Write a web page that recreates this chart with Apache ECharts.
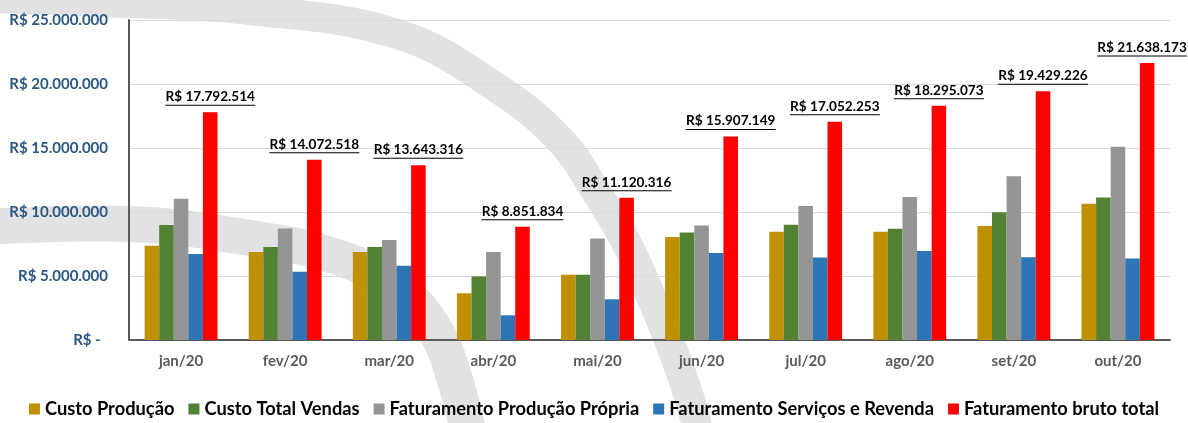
<!DOCTYPE html>
<html>
<head>
<meta charset="utf-8">
<script src="https://cdn.jsdelivr.net/npm/echarts@6/dist/echarts.min.js"></script>
<style>
  html, body { margin: 0; padding: 0; background: #fff; }
  #chart { width: 1188px; height: 423px; }
</style>
</head>
<body>
<div id="chart"></div>
<script>
const meses = ['jan/20', 'fev/20', 'mar/20', 'abr/20', 'mai/20', 'jun/20', 'jul/20', 'ago/20', 'set/20', 'out/20']

const custoProducao = [7370000, 6880000, 6880000, 3650000, 5100000, 8050000, 8460000, 8460000, 8900000, 10640000]
const custoTotalVendas = [8980000, 7270000, 7270000, 4970000, 5100000, 8400000, 9000000, 8690000, 9990000, 11130000]
const fatProducaoPropria = [11040000, 8720000, 7810000, 6875000, 7920000, 8950000, 10460000, 11180000, 12790000, 15100000]
const fatServicosRevenda = [6720000, 5340000, 5800000, 1930000, 3180000, 6800000, 6440000, 6960000, 6460000, 6360000]
const fatBrutoTotal = [17792514, 14072518, 13643316, 8851834, 11120316, 15907149, 17052253, 18295073, 19429226, 21638173]

const fontFamily = 'Lato, "Open Sans", sans-serif'

const fmt = (v) => String(Math.round(v)).replace(/\B(?=(\d{3})+(?!\d))/g, '.')

// medir largura do texto para o sublinhado
const ctx = document.createElement('canvas').getContext('2d')
ctx.font = 'bold 13.6px ' + fontFamily
const textWidth = (t) => Math.ceil(ctx.measureText(t).width)

const totalData = fatBrutoTotal.map((v, i) => {
  const txt = 'R$ ' + fmt(v)
  return {
    value: v,
    label: {
      // ultimo rotulo recuado para caber no quadro
      offset: i === fatBrutoTotal.length - 1 ? [-5, 0] : [0, 0],
      rich: {
        t: { fontSize: 13.6, fontWeight: 'bold', color: '#000', fontFamily, lineHeight: 15 },
        u: { width: textWidth(txt), height: 1, lineHeight: 2, backgroundColor: '#000' }
      }
    }
  }
})

const bar = (name, data, color, extra) => Object.assign({
  name,
  type: 'bar',
  data,
  barGap: '0%',
  barCategoryGap: '30%',
  itemStyle: { color }
}, extra || {})

// marca d'agua (arcos cinza ao fundo)
const arcA = [[-10, -2], [100, 2], [250, 10], [400, 35], [500, 90], [560, 140], [595, 190], [630, 250], [667, 335], [690, 400], [700, 440]]
const arcB = [[-10, 227], [130, 224], [250, 238], [340, 258], [400, 290], [435, 330], [455, 380], [470, 440]]

const chart = echarts.init(document.getElementById('chart'))

chart.setOption({
  backgroundColor: '#fff',
  animation: false,
  textStyle: { fontFamily },
  graphic: [
    {
      type: 'polyline',
      z: -10,
      silent: true,
      shape: { points: arcA, smooth: 0.4 },
      style: { stroke: '#e2e2e4', lineWidth: 30, fill: null }
    },
    {
      type: 'polyline',
      z: -10,
      silent: true,
      shape: { points: arcB, smooth: 0.4 },
      style: { stroke: '#e2e2e4', lineWidth: 36, fill: null }
    }
  ],
  grid: { left: 129, right: 18, top: 20, bottom: 83 },
  legend: {
    bottom: 0,
    left: 'center',
    itemWidth: 11,
    itemHeight: 11,
    itemGap: 14,
    icon: 'rect',
    textStyle: { color: '#000', fontSize: 18.3, fontWeight: 'bold', fontFamily }
  },
  xAxis: {
    type: 'category',
    data: meses,
    axisLine: { lineStyle: { color: '#595959', width: 2 } },
    axisTick: { show: false },
    axisLabel: { color: '#595959', fontSize: 15, fontWeight: 'bold', margin: 14 }
  },
  yAxis: {
    type: 'value',
    min: 0,
    max: 25000000,
    interval: 5000000,
    axisLine: { show: true, lineStyle: { color: '#595959', width: 2 } },
    axisTick: { show: false },
    splitLine: { lineStyle: { color: '#d9d9d9', width: 1 } },
    axisLabel: {
      color: '#2a5680',
      fontSize: 15,
      fontWeight: 'bold',
      margin: 21,
      formatter: (v) => v === 0 ? 'R$ -  ' : 'R$ ' + fmt(v)
    }
  },
  series: [
    bar('Custo Produção', custoProducao, '#BF9000'),
    bar('Custo Total Vendas', custoTotalVendas, '#548235'),
    bar('Faturamento Produção Própria', fatProducaoPropria, '#959595'),
    bar('Faturamento Serviços e Revenda', fatServicosRevenda, '#2E75B6'),
    bar('Faturamento bruto total', totalData, '#FF0000', {
      label: {
        show: true,
        position: 'top',
        distance: 6,
        formatter: (p) => '{t|R$ ' + fmt(p.value) + '}\n{u|}'
      }
    })
  ]
})
</script>
</body>
</html>
